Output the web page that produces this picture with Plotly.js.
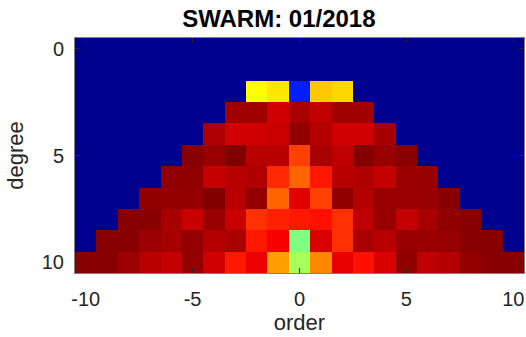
<!DOCTYPE html>
<html>
<head>
<meta charset="utf-8">
<script src="https://cdn.plot.ly/plotly-3.0.1.min.js"></script>
<style>html,body{margin:0;padding:0;background:#fff;}#chart{width:526px;height:337px;}</style>
</head>
<body>
<div id="chart"></div>
<script>
// Orders (x) and degrees (y)
const orders = [-10,-9,-8,-7,-6,-5,-4,-3,-2,-1,0,1,2,3,4,5,6,7,8,9,10];
const degrees = [0,1,2,3,4,5,6,7,8,9,10];
// Normalised values per degree, for orders -n..n (degrees 0 and 1 are at the floor value)
const deg0 = [0];
const deg1 = [0, 0, 0];
const deg2 = [0.625, 0.649, 0.154, 0.679, 0.664];
const deg3 = [0.968, 0.968, 0.921, 0.961, 0.937, 0.968, 0.968];
const deg4 = [0.955, 0.921, 0.921, 0.929, 0.984, 0.950, 0.921, 0.921, 0.962];
const deg5 = [0.992, 0.976, 1.000, 0.945, 0.945, 0.812, 0.961, 0.937, 0.996, 0.976, 0.992];
const deg6 = [0.984, 0.984, 0.933, 0.945, 0.953, 0.836, 0.777, 0.851, 0.945, 0.953, 0.933, 0.976, 0.976];
const deg7 = [0.984, 0.980, 0.980, 1.000, 0.945, 0.980, 0.777, 0.906, 0.812, 0.984, 0.949, 0.976, 0.976, 0.976, 0.992];
const deg8 = [0.992, 0.992, 0.961, 0.929, 0.976, 0.929, 0.828, 0.844, 0.851, 0.859, 0.828, 0.937, 0.976, 0.933, 0.961, 0.984, 0.992];
const deg9 = [0.992, 0.992, 0.972, 0.964, 0.980, 0.949, 0.961, 0.851, 0.882, 0.500, 0.910, 0.828, 0.961, 0.945, 0.976, 0.976, 0.976, 0.992, 0.992];
const deg10 = [0.992, 0.992, 0.972, 0.945, 0.933, 0.980, 0.921, 0.851, 0.894, 0.718, 0.540, 0.742, 0.898, 0.859, 0.913, 0.984, 0.937, 0.949, 0.980, 0.992, 0.992];
const rows = [deg0, deg1, deg2, deg3, deg4, deg5, deg6, deg7, deg8, deg9, deg10];
const floorValue = 0;

// Build full matrix (cells with |order| > degree take the floor value)
const z = degrees.map((n, i) => orders.map(m => {
  if (Math.abs(m) > n) return floorValue;
  return rows[i][m + n];
}));

const jet = [
  [0, 'rgb(0,0,143)'],
  [0.125, 'rgb(0,0,255)'],
  [0.375, 'rgb(0,255,255)'],
  [0.625, 'rgb(255,255,0)'],
  [0.875, 'rgb(255,0,0)'],
  [1, 'rgb(128,0,0)']
];

const fam = 'Liberation Sans, Arial, sans-serif';
const font = {family: fam, color: '#262626'};

Plotly.newPlot('chart', [{
  type: 'heatmap',
  x: orders,
  y: degrees,
  z: z,
  zmin: 0,
  zmax: 1,
  colorscale: jet,
  showscale: false,
  hoverinfo: 'x+y+z'
}], {
  width: 526,
  height: 337,
  margin: {l: 75, r: 2, t: 38, b: 64},
  paper_bgcolor: '#fff',
  plot_bgcolor: '#fff',
  title: {text: '<b>SWARM: 01/2018</b>', xref: 'paper', x: 0.454, xanchor: 'center',
          yref: 'container', y: 0.945, yanchor: 'middle',
          font: {family: fam, size: 24, color: '#000'}},
  xaxis: {
    range: [-10.5, 10.5],
    tickvals: [-10, -5, 0, 5, 10],
    ticktext: ['-10', '-5', '0', '5', '10'],
    ticks: 'inside', ticklen: 5, tickcolor: '#262626', tickwidth: 1,
    showline: true, linecolor: '#808080', linewidth: 1, mirror: 'allticks',
    showgrid: false, zeroline: false,
    ticklabelstandoff: 8,
    tickfont: Object.assign({size: 20}, font),
    title: {text: 'order', font: Object.assign({size: 22}, font), standoff: 5}
  },
  yaxis: {
    range: [10.5, -0.5],
    tickvals: [0, 5, 10],
    ticks: 'inside', ticklen: 5, tickcolor: '#262626', tickwidth: 1,
    showline: true, linecolor: '#808080', linewidth: 1, mirror: 'allticks',
    showgrid: false, zeroline: false,
    ticklabelstandoff: 6,
    tickfont: Object.assign({size: 20}, font),
    title: {text: 'degree', font: Object.assign({size: 22}, font), standoff: 12}
  }
}, {displayModeBar: false, staticPlot: true});
</script>
</body>
</html>
